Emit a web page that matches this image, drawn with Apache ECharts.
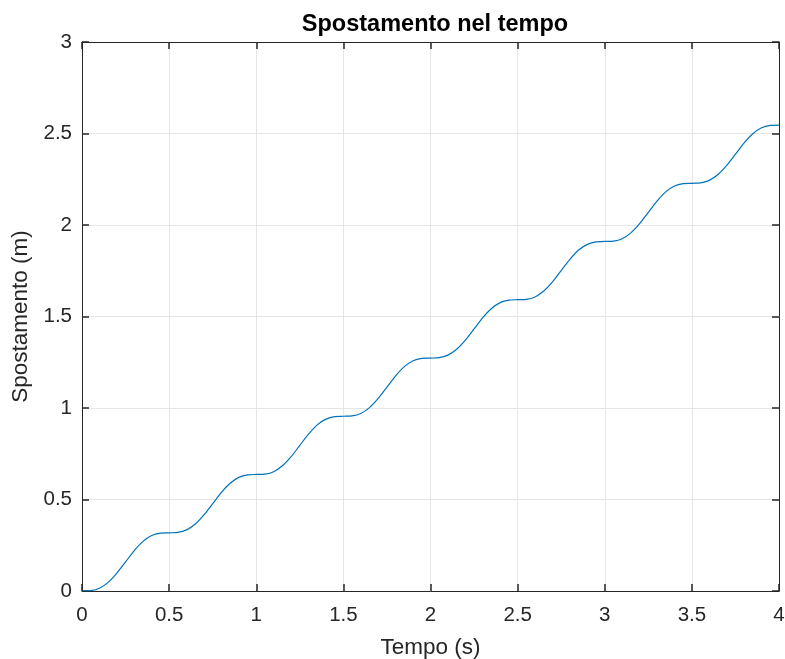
<!DOCTYPE html>
<html>
<head>
<meta charset="utf-8">
<title>Spostamento nel tempo</title>
<script src="https://cdn.jsdelivr.net/npm/echarts@6/dist/echarts.min.js"></script>
<style>
  html, body { margin: 0; padding: 0; background: #ffffff; }
  #chart { width: 785px; height: 659px; }
</style>
</head>
<body>
<div id="chart"></div>
<script>
// Time samples (s)
const tempo = [
  0.00, 0.05, 0.10, 0.15, 0.20, 0.25, 0.30, 0.35, 0.40, 0.45,
  0.50, 0.55, 0.60, 0.65, 0.70, 0.75, 0.80, 0.85, 0.90, 0.95,
  1.00, 1.05, 1.10, 1.15, 1.20, 1.25, 1.30, 1.35, 1.40, 1.45,
  1.50, 1.55, 1.60, 1.65, 1.70, 1.75, 1.80, 1.85, 1.90, 1.95,
  2.00, 2.05, 2.10, 2.15, 2.20, 2.25, 2.30, 2.35, 2.40, 2.45,
  2.50, 2.55, 2.60, 2.65, 2.70, 2.75, 2.80, 2.85, 2.90, 2.95,
  3.00, 3.05, 3.10, 3.15, 3.20, 3.25, 3.30, 3.35, 3.40, 3.45,
  3.50, 3.55, 3.60, 3.65, 3.70, 3.75, 3.80, 3.85, 3.90, 3.95,
  4.00
];

// Displacement (m)
const spostamento = [
  0.000, 0.002, 0.015, 0.047, 0.098, 0.159, 0.221, 0.271, 0.303, 0.316,
  0.318, 0.320, 0.334, 0.366, 0.416, 0.477, 0.539, 0.589, 0.621, 0.635,
  0.637, 0.639, 0.652, 0.684, 0.734, 0.796, 0.857, 0.908, 0.939, 0.953,
  0.955, 0.957, 0.970, 1.002, 1.052, 1.114, 1.176, 1.226, 1.258, 1.271,
  1.273, 1.275, 1.289, 1.321, 1.371, 1.432, 1.494, 1.544, 1.576, 1.589,
  1.592, 1.594, 1.607, 1.639, 1.689, 1.751, 1.812, 1.863, 1.894, 1.908,
  1.910, 1.912, 1.925, 1.957, 2.007, 2.069, 2.131, 2.181, 2.213, 2.226,
  2.228, 2.230, 2.244, 2.276, 2.326, 2.387, 2.449, 2.499, 2.531, 2.544,
  2.546
];

const chart = echarts.init(document.getElementById('chart'), null, { renderer: 'canvas' });

const axisColor = '#262626';
const gridColor = '#e6e6e6';
const fontFam = 'Liberation Sans, Arial, Helvetica, sans-serif';

// Unlabelled axes that close the box on the top and right sides
function boxAxis(pos) {
  return {
    type: 'value', position: pos,
    min: 0, max: pos === 'top' ? 4 : 3, interval: 0.5,
    axisLine: { show: true, onZero: false, lineStyle: { color: axisColor, width: 1 } },
    axisTick: { show: true, inside: true, length: 7, lineStyle: { color: axisColor, width: 1.5 } },
    axisLabel: { show: false },
    splitLine: { show: false }
  };
}

chart.setOption({
  animation: false,
  backgroundColor: '#ffffff',
  title: {
    text: 'Spostamento nel tempo',
    left: 430, top: 8, textAlign: 'center',
    textStyle: { fontFamily: fontFam, fontWeight: 'bold', fontSize: 23.5, color: '#000000' }
  },
  grid: { left: 82, right: 6, top: 42, bottom: 68, containLabel: false, outerBoundsMode: 'none' },
  xAxis: [{
    type: 'value', min: 0, max: 4, interval: 0.5,
    name: 'Tempo (s)', nameLocation: 'middle', nameGap: 45,
    nameTextStyle: { fontFamily: fontFam, fontSize: 22.5, color: axisColor },
    axisLine: { show: true, onZero: false, lineStyle: { color: axisColor, width: 1 } },
    axisTick: { show: true, inside: true, length: 7, lineStyle: { color: axisColor, width: 1.5 } },
    axisLabel: { margin: 14, fontFamily: fontFam, fontSize: 20.5, color: axisColor },
    splitLine: { show: true, lineStyle: { color: gridColor, width: 1 } }
  }, boxAxis('top')],
  yAxis: [{
    type: 'value', min: 0, max: 3, interval: 0.5,
    name: 'Spostamento (m)', nameLocation: 'middle', nameGap: 46,
    nameTextStyle: { fontFamily: fontFam, fontSize: 22.5, color: axisColor },
    axisLine: { show: true, onZero: false, lineStyle: { color: axisColor, width: 1 } },
    axisTick: { show: true, inside: true, length: 7, lineStyle: { color: axisColor, width: 1.5 } },
    axisLabel: { margin: 10, fontFamily: fontFam, fontSize: 20.5, color: axisColor },
    splitLine: { show: true, lineStyle: { color: gridColor, width: 1 } }
  }, boxAxis('right')],
  series: [{
    type: 'line',
    data: tempo.map((t, i) => [t, spostamento[i]]),
    showSymbol: false,
    smooth: 0.3,
    lineStyle: { color: '#0072BD', width: 1.2 },
    xAxisIndex: 0, yAxisIndex: 0
  }]
});
</script>
</body>
</html>
